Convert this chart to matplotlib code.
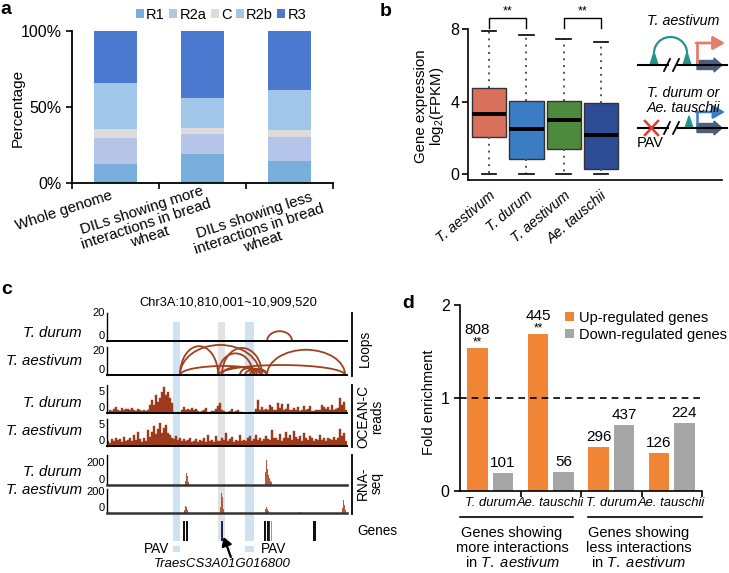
import matplotlib.pyplot as plt
import matplotlib.patches as mpatches
from matplotlib.lines import Line2D
import numpy as np

plt.rcParams['font.family'] = ['Liberation Sans', 'DejaVu Sans']
plt.rcParams['mathtext.fontset'] = 'custom'
plt.rcParams['mathtext.rm'] = 'Liberation Sans'
plt.rcParams['mathtext.it'] = 'Liberation Sans:italic'

# ---------------- data ----------------
# panel a: chromatin state composition (%)
a_cats = ['Whole genome',
          'DILs showing more\ninteractions in bread\nwheat',
          'DILs showing less\ninteractions in bread\nwheat']
a_states = ['R1', 'R2a', 'C', 'R2b', 'R3']
a_r1 = [12.4, 19.4, 14.3]
a_r2a = [17.4, 12.8, 15.7]
a_c = [6.0, 3.8, 4.9]
a_r2b = [30.0, 19.6, 26.1]
a_r3 = [34.2, 44.4, 39.0]
a_colors = ['#7AAEDC', '#B5C5E9', '#DCDCDC', '#A0C6E9', '#4A79CF']

# panel b: expression boxplots (log2 FPKM)
b_labels = ['T. aestivum', 'T. durum', 'T. aestivum', 'Ae. tauschii']
b_q1 = [2.06, 0.81, 1.36, 0.29]
b_med = [3.31, 2.50, 3.00, 2.17]
b_q3 = [4.74, 4.01, 4.01, 3.90]
b_lo = [0.0, 0.0, 0.0, 0.0]
b_hi = [7.90, 7.68, 7.46, 7.26]
b_colors = ['#D9705C', '#3B7DC4', '#4E8A3E', '#2C4D96']

# panel c: genome browser tracks (x = position in kb from 10,810,001)
band_start = [27.5, 46.3, 57.5]
band_end = [30.4, 49.2, 61.3]
band_colors = ['#CFE2F4', '#E2E2E2', '#CFE2F4']

loop_d_start = [66.7]
loop_d_end = [77.1]
loop_d_h = [7.0]
loop_a_start = [30.4, 30.4, 46.3, 47.9, 66.7, 30.4, 46.3, 47.9, 57.5, 59.6, 55.4]
loop_a_end = [46.3, 63.8, 60.8, 64.6, 99.2, 66.7, 99.2, 61.7, 63.8, 66.7, 62.5]
loop_a_h = [24.0, 25.0, 18.0, 22.5, 21.0, 7.5, 8.3, 6.7, 4.2, 5.0, 5.8]

ocean_d = [0.3, 0.6, 0.4, 1.0, 1.4, 0.8, 0.5, 1.1, 0.7, 0.9,
           1.0, 0.6, 1.2, 0.8, 0.5, 0.9, 0.6, 0.4, 0.7, 0.5,
           0.6, 1.8, 3.0, 2.0, 4.2, 2.6, 3.6, 5.0, 6.2, 4.4,
           4.9, 3.5, 2.4, 0.3, 0.1, 0.2, 0.1, 0.6, 1.4, 0.7,
           0.9, 0.6, 1.2, 0.8, 1.0, 0.5, 0.3, 0.4, 0.6, 1.1,
           0.3, 0.2, 0.5, 0.4, 0.9, 1.6, 2.4, 0.8, 0.4, 0.2,
           0.3, 0.5, 1.0, 0.2, 0.4, 0.8, 0.3, 0.2, 0.1, 0.1,
           0.1, 0.2, 0.1, 0.3, 0.9, 3.0, 0.8, 1.4, 0.6, 0.9,
           0.7, 2.0, 1.5, 0.8, 0.6, 2.4, 1.2, 2.1, 0.7, 0.9,
           2.2, 0.6, 0.8, 1.3, 0.7, 1.5, 0.5, 0.8, 1.7, 0.6,
           0.9, 1.6, 0.4, 0.5, 0.7, 0.8, 0.6, 1.9, 1.5, 0.9,
           1.4, 0.8, 1.8, 0.6, 1.0, 1.2, 3.5, 2.0, 2.6, 0.8]
ocean_a = [1.2, 0.8, 1.6, 1.1, 2.0, 1.4, 1.7, 1.0, 2.1, 1.3,
           1.5, 1.8, 1.2, 2.7, 1.4, 3.3, 1.6, 1.0, 1.9, 1.3,
           3.7, 2.2, 3.4, 4.7, 2.8, 4.1, 5.5, 3.0, 4.2, 5.0,
           3.2, 2.6, 2.0, 1.6, 2.4, 1.5, 1.9, 1.2, 1.6, 1.1,
           1.4, 1.8, 1.0, 1.3, 1.7, 0.9, 1.5, 1.2, 1.8, 1.0,
           2.6, 1.2, 1.5, 1.0, 2.3, 1.3, 1.1, 1.8, 1.4, 3.0,
           1.2, 1.6, 2.2, 1.0, 1.4, 1.3, 2.6, 1.1, 1.5, 1.2,
           1.9, 2.5, 1.3, 1.6, 2.6, 1.4, 1.8, 1.2, 1.7, 2.3,
           1.6, 1.4, 3.7, 1.8, 2.0, 1.5, 2.8, 1.3, 1.9, 3.4,
           2.0, 2.6, 1.5, 3.6, 2.1, 1.6, 2.4, 1.2, 3.2, 1.8,
           1.4, 2.5, 1.9, 1.3, 1.6, 1.5, 2.7, 1.4, 1.8, 1.2,
           2.0, 1.6, 1.4, 2.2, 1.5, 1.9, 4.0, 2.3, 3.2, 1.2]

rna_d_pos = [32.6, 33.0, 33.4, 33.8, 66.0, 66.4, 66.8, 67.2, 67.6, 68.0, 68.5, 80.0]
rna_d_val = [40, 108, 80, 30, 120, 230, 150, 90, 60, 40, 25, 20]
rna_a_pos = [32.4, 32.8, 33.2, 33.6, 47.4, 47.7, 48.0, 48.3, 48.6,
             66.2, 66.6, 67.0, 67.4, 80.5, 88.0, 98.0, 98.5, 99.0, 99.5]
rna_a_val = [30, 70, 55, 25, 60, 195, 150, 90, 40,
             40, 58, 35, 15, 5, 4, 50, 120, 80, 30]

gene_start = [31.7, 33.0, 47.5, 61.2, 62.4, 63.7, 65.6, 66.6, 67.6, 68.4, 85.8]
gene_end = [32.4, 33.6, 48.2, 61.4, 62.6, 63.9, 66.3, 67.4, 67.9, 68.6, 86.9]
gene_colors = ['#111111', '#111111', '#1B2466', '#999999', '#999999', '#777777',
               '#111111', '#111111', '#333333', '#999999', '#111111']

# panel d: fold enrichment
d_labels = ['T. durum', 'Ae. tauschii', 'T. durum', 'Ae. tauschii']
d_up = [1.54, 1.69, 0.474, 0.409]
d_down = [0.195, 0.208, 0.707, 0.732]
d_up_n = [808, 445, 296, 126]
d_down_n = [101, 56, 437, 224]
d_sig = ['**', '**', '', '']

# ---------------- figure ----------------
W, H = 729, 573
fig = plt.figure(figsize=(W / 100, H / 100), dpi=100)


def px_axes(x0, y0, x1, y1):
    return fig.add_axes([x0 / W, 1 - y1 / H, (x1 - x0) / W, (y1 - y0) / H])


def fx(x):
    return x / W


def fy(y):
    return 1 - y / H


def fig_line(x0, y0, x1, y1, **kw):
    fig.add_artist(Line2D([fx(x0), fx(x1)], [fy(y0), fy(y1)], transform=fig.transFigure, **kw))


# panel letters
for letter, x, y in [('a', 0, 9), ('b', 380, 11), ('c', 1, 289), ('d', 402, 304)]:
    fig.text(fx(x), fy(y), letter, fontsize=14, fontweight='bold', ha='left', va='center')

# ---------- a ----------
ax = px_axes(72, 31, 333, 183)
xa = np.arange(len(a_cats))
bottom = np.zeros(len(a_cats))
for name, vals, col in zip(a_states, [a_r1, a_r2a, a_c, a_r2b, a_r3], a_colors):
    ax.bar(xa, vals, 0.5, bottom=bottom, color=col, label=name, linewidth=0)
    bottom += np.array(vals)
ax.set_xlim(-0.5, 2.5)
ax.set_ylim(0, 100)
ax.set_yticks([0, 50, 100])
ax.set_yticklabels(['0%', '50%', '100%'])
ax.set_xticks([-0.5, 0.5, 1.5, 2.5])
ax.set_xticklabels([])
for s in ['top', 'right']:
    ax.spines[s].set_visible(False)
for s in ['left', 'bottom']:
    ax.spines[s].set_linewidth(1.3)
ax.tick_params(length=4, width=1.2, labelsize=11.5)
for lab, (px, py) in zip(a_cats, [(64, 211), (146, 224), (259, 229)]):
    fig.text(fx(px), fy(py), lab, rotation=18, rotation_mode='anchor', ha='center', va='center',
             multialignment='center', fontsize=10.8, linespacing=1.0)
fig.text(fx(18), fy(108), 'Percentage', rotation=90, ha='center', va='center', fontsize=11)
ax.legend(ncol=5, loc='center', bbox_to_anchor=(fx(221), fy(15)), bbox_transform=fig.transFigure,
          frameon=False, fontsize=10.5, handlelength=0.55, handleheight=0.55,
          handletextpad=0.15, columnspacing=0.3, borderpad=0, borderaxespad=0)

# ---------- b ----------
axb = px_axes(468, 29, 722, 180)
stats = [dict(med=m, q1=q1, q3=q3, whislo=lo, whishi=hi, fliers=[])
         for q1, m, q3, lo, hi in zip(b_q1, b_med, b_q3, b_lo, b_hi)]
bp = axb.bxp(stats, positions=[1, 2, 3, 4], widths=0.92, patch_artist=True, showfliers=False,
             capwidths=0.4,
             boxprops=dict(edgecolor='#333333', linewidth=1),
             medianprops=dict(color='k', linewidth=2.8),
             whiskerprops=dict(color='#555555', linestyle=(0, (1, 2.5)), linewidth=1.4),
             capprops=dict(color='k', linewidth=1.2))
for patch, col in zip(bp['boxes'], b_colors):
    patch.set_facecolor(col)
axb.set_xlim(0.437, 7.24)
axb.set_ylim(-0.33, 8)
axb.set_yticks([0, 4, 8])
axb.set_xticks([1, 2, 3, 4])
axb.set_xticklabels(b_labels, rotation=40, ha='right', rotation_mode='anchor',
                    fontstyle='italic', fontsize=10.2)
for s in ['top', 'right']:
    axb.spines[s].set_visible(False)
for s in ['left', 'bottom']:
    axb.spines[s].set_linewidth(1.2)
axb.tick_params(axis='y', length=4, width=1.2, labelsize=11.5, pad=2)
axb.tick_params(axis='x', length=0, pad=6)
for a0, a1 in [(1, 2), (3, 4)]:
    axb.plot([a0, a0, a1, a1], [8.06, 8.61, 8.61, 8.06], color='k', lw=1, clip_on=False)
    axb.text((a0 + a1) / 2, 8.63, '**', ha='center', va='bottom', fontsize=9)
fig.text(fx(430), fy(106), 'Gene expression\nlog$_2$(FPKM)', rotation=90, ha='center', va='center',
         multialignment='center', fontsize=10.8, linespacing=1.0)

# schematic
sch = px_axes(628, 10, 729, 160)
sch.set_xlim(628, 729)
sch.set_ylim(160, 10)
sch.axis('off')
teal, salmon, dark, blue = '#23958C', '#E47E68', '#4D5E7C', '#3B7DC4'


def genome_line(y):
    sch.plot([638, 668], [y, y], color='k', lw=1.5)
    sch.plot([678, 727], [y, y], color='k', lw=1.5)
    sch.plot([664, 670], [y + 6, y - 6], color='k', lw=1.3)
    sch.plot([673, 679], [y + 6, y - 6], color='k', lw=1.3)


genome_line(65)
for cx in [654, 687]:
    sch.add_patch(mpatches.Polygon([[cx - 4, 65], [cx + 4, 65], [cx, 52]], color=teal))
sch.add_patch(mpatches.Arc((670.5, 53), 33, 32, theta1=180, theta2=360, color=teal, lw=1.6))
sch.plot([697, 697], [62, 43], color=salmon, lw=2)
sch.annotate('', xy=(725, 43), xytext=(696, 43),
             arrowprops=dict(arrowstyle='-|>,head_length=0.7,head_width=0.4', color=salmon, lw=2,
                             shrinkA=0, shrinkB=0))
sch.add_patch(mpatches.FancyArrow(697, 65, 25, 0, width=9, head_width=14, head_length=8,
                                  length_includes_head=True, color=dark))
sch.text(683, 21, 'T. aestivum', ha='center', va='center', style='italic', fontsize=10.3)

genome_line(128)
sch.plot([645, 658], [121, 135], color='#E63B2E', lw=1.8)
sch.plot([645, 658], [135, 121], color='#E63B2E', lw=1.8)
sch.add_patch(mpatches.Polygon([[685, 128], [693, 128], [689, 116]], color=teal))
sch.plot([697, 697], [124, 112], color=blue, lw=1.8)
sch.annotate('', xy=(725, 112), xytext=(696, 112),
             arrowprops=dict(arrowstyle='-|>,head_length=0.7,head_width=0.4', color=blue, lw=1.8,
                             shrinkA=0, shrinkB=0))
sch.add_patch(mpatches.FancyArrow(697, 128, 25, 0, width=9, head_width=14, head_length=8,
                                  length_includes_head=True, color=dark))
sch.text(683, 93, 'T. durum or', ha='center', va='center', style='italic', fontsize=10.3)
sch.text(683, 108, 'Ae. tauschii', ha='center', va='center', style='italic', fontsize=10.3)
sch.text(637, 143, 'PAV', ha='left', va='center', fontsize=10.5)

# ---------- c ----------
TX0, TX1 = 107, 347
bg = px_axes(TX0, 270, TX1, 573)
bg.set_xlim(0, 100)
bg.set_ylim(573, 270)
bg.axis('off')
bwidth = np.subtract(band_end, band_start)
bg.bar(band_start, 219, width=bwidth, bottom=322, align='edge', color=band_colors, linewidth=0)
bg.bar([band_start[0], band_start[2]], 6, width=[bwidth[0], bwidth[2]], bottom=546, align='edge',
       color=band_colors[0], linewidth=0)
bg.text(50.4, 302, 'Chr3A:10,810,001~10,909,520', ha='center', va='center', fontsize=9.3)
bg.text(band_start[0] - 1.5, 549, 'PAV', ha='right', va='center', fontsize=9.8)
bg.text(band_end[2] + 3, 549, 'PAV', ha='left', va='center', fontsize=9.8)
bg.text(47.9, 564, 'TraesCS3A01G016800', ha='center', va='center', style='italic', fontsize=9.5)
bg.annotate('', xy=(48.6, 537), xytext=(51.6, 557),
            arrowprops=dict(arrowstyle='-|>,head_length=0.5,head_width=0.3', color='k', lw=1.6,
                            shrinkA=0, shrinkB=0))


def track(y0, y1, top, lab):
    t = px_axes(TX0, y0, TX1, y1)
    t.patch.set_alpha(0)
    t.set_xlim(0, 100)
    t.set_ylim(0, top)
    t.set_xticks([])
    t.set_yticks([0, lab])
    t.tick_params(axis='y', length=0, pad=1.5, labelsize=8)
    tl = t.get_yticklabels()
    tl[0].set_va('bottom')
    tl[1].set_va('center')
    for s in ['top', 'right']:
        t.spines[s].set_visible(False)
    t.spines['left'].set_linewidth(1)
    t.spines['bottom'].set_linewidth(1.4)
    return t


arc_col = '#A0401F'
ld = track(313, 341, 20, 20)
for s0, s1, h in zip(loop_d_start, loop_d_end, loop_d_h):
    ld.add_patch(mpatches.Arc(((s0 + s1) / 2, 0), s1 - s0, 2 * h, theta1=0, theta2=180,
                              color=arc_col, lw=1.3))
la = track(347, 375, 23.3, 20)
for s0, s1, h in zip(loop_a_start, loop_a_end, loop_a_h):
    la.add_patch(mpatches.Arc(((s0 + s1) / 2, 0), s1 - s0, 2 * h, theta1=0, theta2=180,
                              color=arc_col, lw=1.3, clip_on=False))

ocean_col = '#9C3A1B'
nb = len(ocean_d)
centers = (np.arange(nb) + 0.5) * 100 / nb
od = track(385, 413, 6.67, 5)
od.bar(centers, ocean_d, width=100 / nb, color=ocean_col, edgecolor=ocean_col, linewidth=0.3)
oa = track(419, 446, 6.43, 5)
oa.bar(centers, ocean_a, width=100 / nb, color=ocean_col, edgecolor=ocean_col, linewidth=0.3)

rna_col = '#B65A3C'
rd = track(455, 485, 273, 200)
rd.bar(rna_d_pos, rna_d_val, width=0.35, color=rna_col, linewidth=0)
ra = track(489, 513, 229, 200)
ra.bar(rna_a_pos, rna_a_val, width=0.35, color=rna_col, linewidth=0)
for t in [rd, ra]:
    t.spines['bottom'].set_color('#333333')
    t.spines['bottom'].set_linewidth(1.8)

ga = px_axes(TX0, 521, TX1, 541)
ga.patch.set_alpha(0)
ga.set_xlim(0, 100)
ga.set_ylim(0, 1)
ga.axis('off')
ga.bar(gene_start, 1, width=np.subtract(gene_end, gene_start), align='edge', color=gene_colors,
       linewidth=0)

for lab, y in [('T. durum', 333), ('T. aestivum', 361), ('T. durum', 403),
               ('T. aestivum', 431), ('T. durum', 472), ('T. aestivum', 490)]:
    fig.text(fx(82), fy(y), lab, ha='right', va='center', style='italic', fontsize=10.8)

for y0, y1 in [(313, 376), (385, 447), (455, 514)]:
    fig_line(352, y0, 352, y1, color='k', lw=1.3)
fig.text(fx(365), fy(348), 'Loops', rotation=90, ha='center', va='center', fontsize=9.8)
fig.text(fx(370), fy(417), 'OCEAN-C\nreads', rotation=90, ha='center', va='center',
         multialignment='center', fontsize=9.8, linespacing=1.0)
fig.text(fx(370), fy(483), 'RNA-\nseq', rotation=90, ha='center', va='center',
         multialignment='center', fontsize=9.8, linespacing=1.0)
fig.text(fx(357), fy(531), 'Genes', ha='left', va='center', fontsize=9.8)

# ---------- d ----------
axd = px_axes(460, 305, 702, 491)
xd = np.arange(len(d_labels))
orange, grey = '#F08536', '#A6A6A6'
axd.bar(xd - 0.21, d_up, 0.34, color=orange, label='Up-regulated genes')
axd.bar(xd + 0.21, d_down, 0.34, color=grey, label='Down-regulated genes')
axd.axhline(1, color='k', ls=(0, (4, 3)), lw=1.2)
for i in range(len(xd)):
    if d_sig[i]:
        axd.text(xd[i] - 0.21, d_up[i] - 0.005, d_sig[i], ha='center', va='bottom', fontsize=8.5)
        axd.text(xd[i] - 0.21, d_up[i] + 0.12, str(d_up_n[i]), ha='center', va='bottom', fontsize=11)
    else:
        axd.text(xd[i] - 0.21, d_up[i] + 0.03, str(d_up_n[i]), ha='center', va='bottom', fontsize=11)
    axd.text(xd[i] + 0.21, d_down[i] + 0.03, str(d_down_n[i]), ha='center', va='bottom', fontsize=11)
axd.set_xlim(-0.5, 3.5)
axd.set_ylim(0, 2)
axd.set_yticks([0, 1, 2])
axd.set_xticks(xd)
axd.set_xticklabels(d_labels, fontstyle='italic', fontsize=9.4)
axd.set_xticks([0.5, 1.5, 2.5, 3.5], minor=True)
axd.tick_params(axis='x', which='major', length=0, pad=4)
axd.tick_params(axis='x', which='minor', length=4, width=1.2)
axd.tick_params(axis='y', length=4, width=1.2, labelsize=11.5)
for s in ['top', 'right']:
    axd.spines[s].set_visible(False)
for s in ['left', 'bottom']:
    axd.spines[s].set_linewidth(1.2)
tr = axd.get_xaxis_transform()
axd.plot([-0.5, 1.36], [-0.14, -0.14], transform=tr, clip_on=False, color='k', lw=1.2)
axd.plot([1.61, 3.5], [-0.14, -0.14], transform=tr, clip_on=False, color='k', lw=1.2)
axd.text(0.36, -0.19, 'Genes showing\nmore interactions\nin $T.\\ aestivum$', transform=tr,
         ha='center', va='top', multialignment='center', fontsize=10.5, linespacing=1.05)
axd.text(2.45, -0.19, 'Genes showing\nless interactions\nin $T.\\ aestivum$', transform=tr,
         ha='center', va='top', multialignment='center', fontsize=10.5, linespacing=1.05)
fig.text(fx(429), fy(402), 'Fold enrichment', rotation=90, ha='center', va='center', fontsize=10.5)
axd.legend(loc='upper left', bbox_to_anchor=(fx(565), fy(311)), bbox_transform=fig.transFigure,
           frameon=False, fontsize=10.5, handlelength=0.6, handleheight=0.6, handletextpad=0.35,
           labelspacing=0.2, borderpad=0, borderaxespad=0)

fig.savefig('out.png', dpi=100, facecolor='white')
